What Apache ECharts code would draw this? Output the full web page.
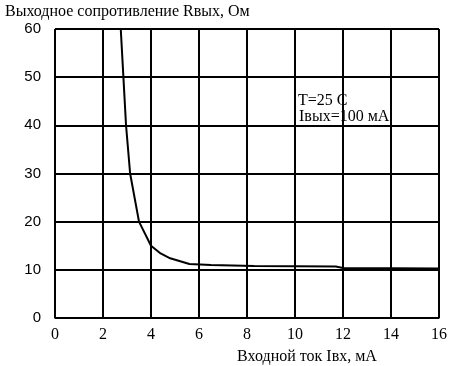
<!DOCTYPE html>
<html><head><meta charset="utf-8">
<script src="https://cdn.jsdelivr.net/npm/echarts@6/dist/echarts.min.js"></script>
<style>html,body{margin:0;padding:0;background:#fff}#c{width:457px;height:366px}</style>
</head><body><div id="c"></div>
<script>
const xTicks = [0, 2, 4, 6, 8, 10, 12, 14, 16];
const yTicks = [0, 10, 20, 30, 40, 50, 60];
const inputCurrent = [2.74, 2.85, 2.96, 3.13, 3.5, 4.0, 4.4, 4.8, 5.6, 6.5, 8.3, 11.7, 12.0, 16.0];
const outputResistance = [60, 50, 40, 30, 20, 15, 13.4, 12.4, 11.2, 11.0, 10.8, 10.7, 10.4, 10.3];
const chart = echarts.init(document.getElementById('c'));
chart.setOption({
  animation: false,
  backgroundColor: '#fff',
  grid: {left: 55, right: 18, top: 29, bottom: 48, show: true, borderColor: '#000', borderWidth: 1,
    outerBoundsMode: 'none', containLabel: false},
  title: {text: 'Выходное сопротивление Rвых, Ом', left: 0, top: -1,
    textStyle: {fontFamily: 'Liberation Serif', fontSize: 16, fontWeight: 'normal', color: '#000'}},
  xAxis: {type: 'value', min: 0, max: 16, interval: 2,
    name: 'Входной ток Iвх, мА', nameLocation: 'middle', nameGap: 31,
    nameTextStyle: {fontFamily: 'Liberation Serif', fontSize: 16, color: '#000', padding: [0,0,0,120]},
    axisLine: {show: true, lineStyle: {color: '#000', width: 1}},
    axisTick: {show: false},
    axisLabel: {fontFamily: 'Liberation Serif', fontSize: 16, color: '#000', margin: 9},
    splitLine: {show: true, lineStyle: {color: '#000', width: 2}}},
  yAxis: {type: 'value', min: 0, max: 60, interval: 10,
    axisLine: {show: true, lineStyle: {color: '#000', width: 1}},
    axisTick: {show: false},
    axisLabel: {fontFamily: 'Liberation Sans', fontSize: 15, color: '#000', margin: 14},
    splitLine: {show: true, lineStyle: {color: '#000', width: 2}}},
  graphic: [
    {type: 'text', left: 298, top: 93, style: {text: 'T=25 C', font: '16px "Liberation Serif"', fill: '#000'}},
    {type: 'text', left: 299, top: 109, style: {text: 'Iвых=100 мА', font: '16px "Liberation Serif"', fill: '#000'}}
  ],
  series: [{type: 'line', data: inputCurrent.map((x, i) => [x, outputResistance[i]]),
    showSymbol: false, lineStyle: {color: '#000', width: 2}, smooth: false}]
});
</script></body></html>
